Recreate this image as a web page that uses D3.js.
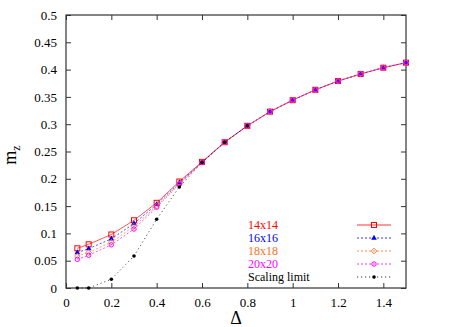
<!DOCTYPE html>
<html lang="en">
<head>
<meta charset="UTF-8">
<title>m_z vs Delta</title>
<script src="https://d3js.org/d3.v7.min.js"></script>
<style>
  body { margin: 0; background: #fff; }
  svg text { font-family: "Liberation Serif", "Times New Roman", "DejaVu Serif", serif; }
</style>
</head>
<body>
<div id="chart"></div>
<script>
// data
const delta = [0.05, 0.1, 0.2, 0.3, 0.4, 0.5, 0.6, 0.7, 0.8, 0.9, 1.0, 1.1, 1.2, 1.3, 1.4, 1.5];
const m14 = [0.0727, 0.080, 0.098, 0.124, 0.156, 0.195, 0.231, 0.267, 0.297, 0.323, 0.344, 0.363, 0.379, 0.392, 0.4035, 0.4127];
const m16 = [0.065, 0.072, 0.090, 0.118, 0.153, 0.193, 0.230, 0.267, 0.297, 0.323, 0.344, 0.363, 0.379, 0.392, 0.4035, 0.4127];
const m18 = [0.0586, 0.065, 0.084, 0.113, 0.150, 0.191, 0.230, 0.267, 0.297, 0.323, 0.344, 0.363, 0.379, 0.392, 0.4035, 0.4127];
const m20 = [0.0525, 0.060, 0.079, 0.108, 0.148, 0.190, 0.230, 0.267, 0.297, 0.323, 0.344, 0.363, 0.379, 0.392, 0.4035, 0.4127];
const deltaLimit = [0.05, 0.1, 0.2, 0.3, 0.4, 0.5, 0.6, 0.7, 0.8];
const mLimit = [0, 0, 0.016, 0.0586, 0.126, 0.185, 0.230, 0.267, 0.297];

const xTicks = [0, 0.2, 0.4, 0.6, 0.8, 1, 1.2, 1.4];
const yTicks = [0, 0.05, 0.1, 0.15, 0.2, 0.25, 0.3, 0.35, 0.4, 0.45, 0.5];

const series = [
  {label: "14x14", xs: delta, ys: m14, color: "#ff0000", dash: null, marker: "square"},
  {label: "16x16", xs: delta, ys: m16, color: "#0000ff", dash: "2,2", marker: "triangle"},
  {label: "18x18", xs: delta, ys: m18, color: "#ff7020", dash: "2,2", marker: "diamond"},
  {label: "20x20", xs: delta, ys: m20, color: "#ff00ff", dash: "2,2", marker: "circle"},
  {label: "Scaling limit", xs: deltaLimit, ys: mLimit, color: "#000000", dash: "1.2,2.8", marker: "dot"}
];

const serif = "Liberation Serif, Times New Roman, DejaVu Serif, serif";
const width = 467, height = 327;
const margin = {left: 66, right: 61, top: 15, bottom: 39};

const svg = d3.select("#chart").append("svg")
  .attr("width", width)
  .attr("height", height)
  .attr("font-family", serif);

const x = d3.scaleLinear().domain([0, 1.5]).range([margin.left, width - margin.right]);
const y = d3.scaleLinear().domain([0, 0.5]).range([height - margin.bottom, margin.top]);

const tickLen = 5;
const fmt = d => d3.format("")(d);

// bottom axis + mirrored top ticks
svg.append("g")
  .attr("transform", `translate(0,${y(0)})`)
  .call(d3.axisBottom(x).tickValues(xTicks).tickSize(-tickLen).tickPadding(10).tickFormat(fmt))
  .attr("font-family", serif)
  .call(g => g.select(".domain").remove())
  .call(g => g.selectAll("line").attr("stroke", "#333"))
  .call(g => g.selectAll("text").attr("font-size", 13).attr("fill", "#000"));

svg.append("g")
  .attr("transform", `translate(0,${y(0.5)})`)
  .call(d3.axisTop(x).tickValues(xTicks).tickSize(-tickLen).tickFormat(""))
  .call(g => g.select(".domain").remove())
  .call(g => g.selectAll("line").attr("stroke", "#333"));

// left axis + mirrored right ticks
svg.append("g")
  .attr("transform", `translate(${x(0)},0)`)
  .call(d3.axisLeft(y).tickValues(yTicks).tickSize(-tickLen).tickPadding(9).tickFormat(fmt))
  .attr("font-family", serif)
  .call(g => g.select(".domain").remove())
  .call(g => g.selectAll("line").attr("stroke", "#333"))
  .call(g => g.selectAll("text").attr("font-size", 13).attr("fill", "#000"));

svg.append("g")
  .attr("transform", `translate(${x(1.5)},0)`)
  .call(d3.axisRight(y).tickValues(yTicks).tickSize(-tickLen).tickFormat(""))
  .call(g => g.select(".domain").remove())
  .call(g => g.selectAll("line").attr("stroke", "#333"));

// frame
svg.append("rect")
  .attr("x", x(0)).attr("y", y(0.5))
  .attr("width", x(1.5) - x(0)).attr("height", y(0) - y(0.5))
  .attr("fill", "none").attr("stroke", "#333").attr("stroke-width", 1.2);

// axis titles
svg.append("text")
  .attr("transform", `translate(${x(0.75)},324)`)
  .attr("text-anchor", "middle")
  .attr("font-size", 18)
  .text("Δ");

const yl = svg.append("text")
  .attr("transform", "translate(16,155) rotate(-90)")
  .attr("text-anchor", "middle")
  .attr("font-size", 18);
yl.append("tspan").text("m");
yl.append("tspan").attr("font-size", 12).attr("dy", 4).text("z");

function drawMarker(g, type, color) {
  if (type === "square") {
    g.append("rect").attr("x", -2.5).attr("y", -2.5).attr("width", 5).attr("height", 5)
      .attr("fill", "none").attr("stroke", color).attr("stroke-width", 1);
  } else if (type === "triangle") {
    g.append("path").attr("d", d3.symbol(d3.symbolTriangle, 14)()).attr("fill", color);
  } else if (type === "diamond") {
    g.append("path").attr("d", "M0,-2.8L2.8,0L0,2.8L-2.8,0Z")
      .attr("fill", "none").attr("stroke", color).attr("stroke-width", 0.9);
  } else if (type === "circle") {
    g.append("circle").attr("r", 2.2).attr("fill", "none").attr("stroke", color).attr("stroke-width", 1);
  } else {
    g.append("circle").attr("r", 1.8).attr("fill", color);
  }
}

const line = d3.line().x(d => x(d[0])).y(d => y(d[1]));

series.forEach(s => {
  const pts = s.xs.map((v, i) => [v, s.ys[i]]);
  svg.append("path")
    .datum(pts)
    .attr("d", line)
    .attr("fill", "none")
    .attr("stroke", s.color)
    .attr("stroke-width", 0.8)
    .attr("stroke-opacity", 0.85)
    .attr("stroke-dasharray", s.dash);
  pts.forEach(p => {
    const g = svg.append("g").attr("transform", `translate(${x(p[0])},${y(p[1])})`);
    drawMarker(g, s.marker, s.color);
  });
});

// legend
const legend = svg.append("g");
series.forEach((s, i) => {
  const ly = 225 + i * 13;
  legend.append("text")
    .attr("x", 248).attr("y", ly + 4)
    .attr("font-size", 12)
    .attr("fill", s.color)
    .text(s.label);
  legend.append("line")
    .attr("x1", 357).attr("x2", 391).attr("y1", ly).attr("y2", ly)
    .attr("stroke", s.color).attr("stroke-width", 0.8)
    .attr("stroke-dasharray", s.dash);
  const g = legend.append("g").attr("transform", `translate(374,${ly})`);
  drawMarker(g, s.marker, s.color);
});
</script>
</body>
</html>
